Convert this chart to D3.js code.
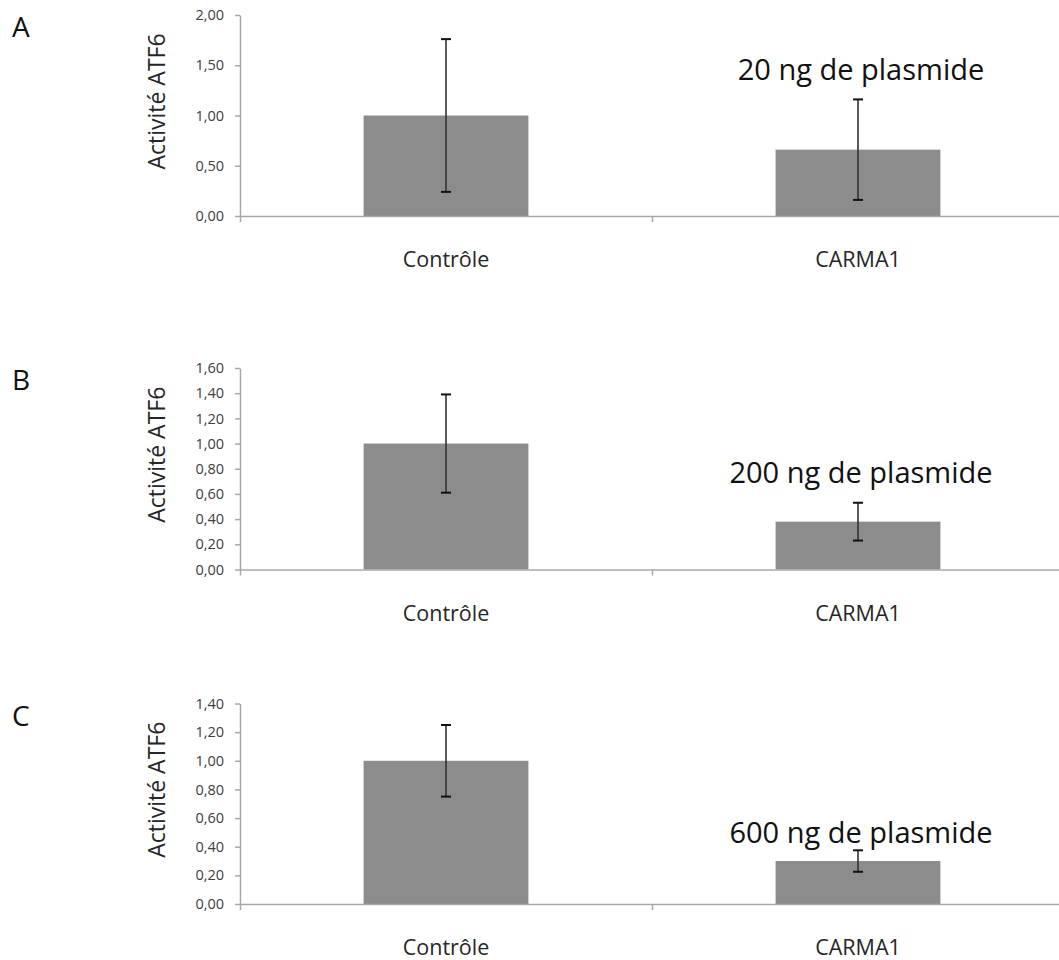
<!DOCTYPE html>
<html>
<head>
<meta charset="utf-8">
<script src="https://cdn.jsdelivr.net/npm/d3@7"></script>
<style>
    body { margin: 0; background: #fff; }
    text { font-family: "Open Sans", sans-serif; }
</style>
</head>
<body>
<div id="chart"></div>
<script>

var categories = ["Contrôle", "CARMA1"];
var panelLetters = ["A", "B", "C"];
var doseLabels = ["20 ng de plasmide", "200 ng de plasmide", "600 ng de plasmide"];

// mean ATF6 activity per panel (Contrôle, CARMA1)
var meansA = [1.00, 0.66],
    meansB = [1.00, 0.38],
    meansC = [1.00, 0.30];

// error bar half-lengths
var errorsA = [0.76, 0.50],
    errorsB = [0.39, 0.15],
    errorsC = [0.25, 0.075];

var yMaxes = [2.0, 1.6, 1.4];
var yTicksA = [0, 0.5, 1.0, 1.5, 2.0],
    yTicksB = [0, 0.2, 0.4, 0.6, 0.8, 1.0, 1.2, 1.4, 1.6],
    yTicksC = [0, 0.2, 0.4, 0.6, 0.8, 1.0, 1.2, 1.4];

// where the dose note sits, in y units of each panel
var noteLevels = [1.35, 0.69, 0.425];

var panels = [
    { means: meansA, errors: errorsA, ticks: yTicksA },
    { means: meansB, errors: errorsB, ticks: yTicksB },
    { means: meansC, errors: errorsC, ticks: yTicksC }
];

var width = 1059,
    h = 960;

// plot boxes (top, bottom of the value axis) for the three panels
var boxes = [
    { top: 15, bottom: 216 },
    { top: 368, bottom: 569.5 },
    { top: 703.5, bottom: 904 }
];

var left = 240,
    right = 1064;

var barColor = "#8c8c8c",
    axisColor = "#a8a8a8",
    textColor = "#404040";

var fr = d3.formatLocale({ decimal: ",", thousands: " ", grouping: [3], currency: ["", " €"] });
var fmt = fr.format(".2f");

var svg = d3.select("#chart")
    .append("svg")
    .attr("width", width)
    .attr("height", h);

var x = d3.scaleBand()
    .domain(categories)
    .range([left, right])
    .padding(0);

var xEdges = d3.scaleLinear()
    .domain([0, categories.length])
    .range([left, right]);

var barWidth = x.bandwidth() / 2.5;

panels.forEach(function (p, k) {

    var box = boxes[k];

    var y = d3.scaleLinear()
        .domain([0, yMaxes[k]])
        .range([box.bottom, box.top]);

    var g = svg.append("g")
        .attr("class", "panel");

    // bars
    g.selectAll(".bar")
        .data(p.means)
        .enter().append("rect")
        .attr("class", "bar")
        .attr("x", function (d, i) {
            return x(categories[i]) + (x.bandwidth() - barWidth) / 2;
        })
        .attr("y", function (d) {
            return y(d);
        })
        .attr("width", barWidth)
        .attr("height", function (d) {
            return y(0) - y(d);
        })
        .style("fill", barColor);

    // value axis
    var yAxis = d3.axisLeft(y)
        .tickValues(p.ticks)
        .tickFormat(fmt)
        .tickSize(5)
        .tickSizeOuter(0)
        .tickPadding(11);

    var ya = g.append("g")
        .attr("class", "axis axis--y")
        .attr("transform", "translate(" + left + ",0)")
        .call(yAxis);

    ya.select(".domain").attr("stroke", axisColor).attr("stroke-width", 1.5);
    ya.selectAll(".tick line").attr("stroke", axisColor).attr("stroke-width", 1.5);
    ya.selectAll(".tick text")
        .style("font-size", "14.5px")
        .style("fill", textColor);

    // category axis: boundary ticks
    var edgeAxis = d3.axisBottom(xEdges)
        .tickValues(d3.range(categories.length + 1))
        .tickFormat("")
        .tickSize(6)
        .tickSizeOuter(0);

    var xe = g.append("g")
        .attr("class", "axis axis--x")
        .attr("transform", "translate(0," + y(0) + ")")
        .call(edgeAxis);

    xe.select(".domain").attr("stroke", axisColor).attr("stroke-width", 1.5);
    xe.selectAll(".tick line").attr("stroke", axisColor).attr("stroke-width", 1.5);

    // category labels
    var labelAxis = d3.axisBottom(x)
        .tickSize(0)
        .tickPadding(0);

    var xl = g.append("g")
        .attr("class", "axis axis--labels")
        .attr("transform", "translate(0," + y(0) + ")")
        .call(labelAxis);

    xl.select(".domain").remove();
    xl.selectAll(".tick text")
        .attr("y", 51)
        .attr("dy", null)
        .style("font-size", "21.5px")
        .style("fill", "#262626");

    // error bars
    var eb = g.selectAll(".err")
        .data(p.means)
        .enter().append("g")
        .attr("class", "err");

    eb.append("line")
        .attr("x1", function (d, i) { return x(categories[i]) + x.bandwidth() / 2; })
        .attr("x2", function (d, i) { return x(categories[i]) + x.bandwidth() / 2; })
        .attr("y1", function (d, i) { return y(d + p.errors[i]); })
        .attr("y2", function (d, i) { return y(d - p.errors[i]); })
        .attr("stroke", "#333")
        .attr("stroke-width", 1.6);

    [1, -1].forEach(function (s) {
        eb.append("line")
            .attr("x1", function (d, i) { return x(categories[i]) + x.bandwidth() / 2 - 5; })
            .attr("x2", function (d, i) { return x(categories[i]) + x.bandwidth() / 2 + 5; })
            .attr("y1", function (d, i) { return y(d + s * p.errors[i]); })
            .attr("y2", function (d, i) { return y(d + s * p.errors[i]); })
            .attr("stroke", "#111")
            .attr("stroke-width", 2);
    });

    // axis title
    g.append("text")
        .attr("transform", "translate(165," + ((box.top + box.bottom) / 2 - 14) + ") rotate(-90)")
        .attr("text-anchor", "middle")
        .style("font-size", "23px")
        .style("fill", "#262626")
        .text("Activité ATF6");

    // panel letter
    g.append("text")
        .attr("x", 12)
        .attr("y", box.top + 22)
        .style("font-size", "28px")
        .style("fill", "#111")
        .text(panelLetters[k]);

    // dose note above CARMA1
    g.append("text")
        .attr("x", x(categories[1]) + x.bandwidth() / 2 + 3)
        .attr("y", y(noteLevels[k]))
        .attr("text-anchor", "middle")
        .style("font-size", "29px")
        .style("fill", "#111")
        .text(doseLabels[k]);
});

</script>
</body>
</html>
